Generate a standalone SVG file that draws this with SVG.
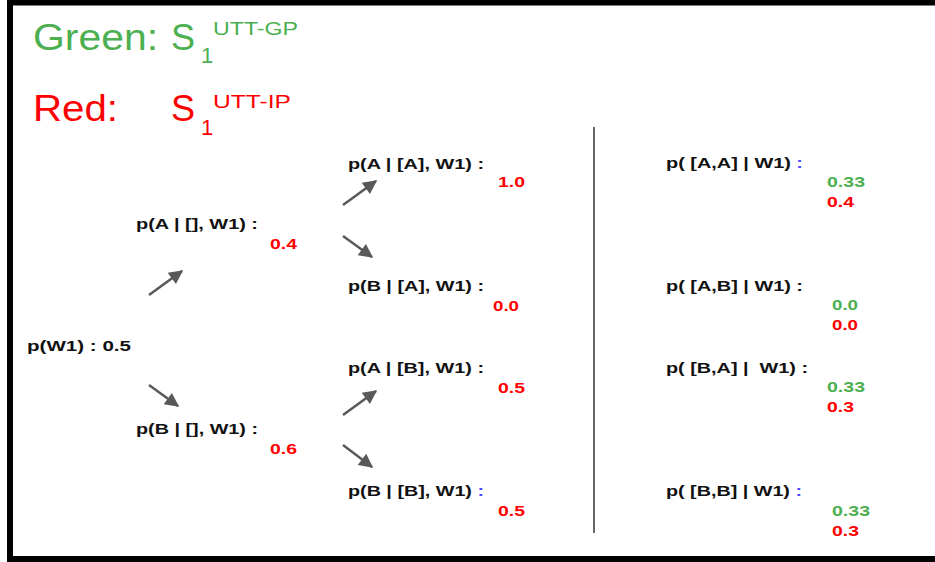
<svg xmlns="http://www.w3.org/2000/svg" width="935" height="562" viewBox="0 0 935 562">
<style>
text{font-family:"Liberation Sans",Arial,sans-serif}
.t{font-size:36px}
.sup{font-size:19px}
.sub{font-size:22px}
.g{fill:#4caf50}
.r{fill:#ff0000}
.lb{font-size:15px;font-weight:bold;fill:#111}
.v{font-size:15.5px;font-weight:bold}
.b{fill:#4b4bff}
.arr{stroke:#595959;stroke-width:2.5;fill:none;marker-end:url(#ah)}
</style>
<defs>
<marker id="ah" viewBox="0 0 10 10" refX="9" refY="5" markerWidth="17" markerHeight="14" markerUnits="userSpaceOnUse" orient="auto">
<path d="M0,0 L10,5 L0,10 z" fill="#595959"/>
</marker>
</defs>
<rect x="0" y="0" width="935" height="562" fill="#fff"/>
<rect x="10" y="2.5" width="940" height="556.5" fill="#fff" stroke="#000" stroke-width="6"/>
<g id="legend">
<text class="t g" x="33" y="50" textLength="125" lengthAdjust="spacingAndGlyphs">Green:</text>
<text class="t g" x="171" y="50">S</text>
<text class="sub g" x="201" y="63">1</text>
<text class="sup g" x="213" y="35" textLength="85" lengthAdjust="spacingAndGlyphs">UTT-GP</text>
<text class="t r" x="33" y="121" textLength="85" lengthAdjust="spacingAndGlyphs">Red:</text>
<text class="t r" x="171" y="121">S</text>
<text class="sub r" x="201" y="135">1</text>
<text class="sup r" x="213" y="108" textLength="78" lengthAdjust="spacingAndGlyphs">UTT-IP</text>
</g>
<g id="connectors">
<line class="arr" x1="149" y1="295" x2="182" y2="271"/>
<line class="arr" x1="343" y1="205" x2="376" y2="181"/>
<line class="arr" x1="343" y1="236" x2="372" y2="257"/>
<line class="arr" x1="149" y1="385" x2="178" y2="406"/>
<line class="arr" x1="343" y1="415" x2="376" y2="391"/>
<line class="arr" x1="343" y1="445" x2="372" y2="467"/>
<line x1="594" y1="127" x2="594" y2="533" stroke="#666" stroke-width="2"/>
</g>
<g id="n-w1">
<text class="lb" x="27" y="351" textLength="104" lengthAdjust="spacingAndGlyphs">p(W1) : 0.5</text>
</g>
<g id="n-a">
<text class="lb" x="136" y="229" textLength="122" lengthAdjust="spacingAndGlyphs">p(A | [], W1) :</text>
<text class="v r" x="270" y="249" textLength="27" lengthAdjust="spacingAndGlyphs">0.4</text>
</g>
<g id="n-b">
<text class="lb" x="136" y="434" textLength="122" lengthAdjust="spacingAndGlyphs">p(B | [], W1) :</text>
<text class="v r" x="270" y="454" textLength="27" lengthAdjust="spacingAndGlyphs">0.6</text>
</g>
<g id="n-aa">
<text class="lb" x="348" y="169" textLength="136" lengthAdjust="spacingAndGlyphs">p(A | [A], W1) :</text>
<text class="v r" x="498" y="187" textLength="27" lengthAdjust="spacingAndGlyphs">1.0</text>
</g>
<g id="n-ba">
<text class="lb" x="348" y="291" textLength="136" lengthAdjust="spacingAndGlyphs">p(B | [A], W1) :</text>
<text class="v r" x="493" y="311" textLength="26" lengthAdjust="spacingAndGlyphs">0.0</text>
</g>
<g id="n-ab">
<text class="lb" x="348" y="373" textLength="136" lengthAdjust="spacingAndGlyphs">p(A | [B], W1) :</text>
<text class="v r" x="498" y="393" textLength="27" lengthAdjust="spacingAndGlyphs">0.5</text>
</g>
<g id="n-bb">
<text class="lb" x="348" y="496" textLength="136" lengthAdjust="spacingAndGlyphs">p(B | [B], W1) <tspan class="b">:</tspan></text>
<text class="v r" x="498" y="516" textLength="27" lengthAdjust="spacingAndGlyphs">0.5</text>
</g>
<g id="j-aa">
<text class="lb" x="666" y="168" textLength="137" lengthAdjust="spacingAndGlyphs">p( [A,A] | W1) <tspan class="b">:</tspan></text>
<text class="v g" x="827" y="187" textLength="38" lengthAdjust="spacingAndGlyphs">0.33</text>
<text class="v r" x="827" y="207" textLength="27" lengthAdjust="spacingAndGlyphs">0.4</text>
</g>
<g id="j-ab">
<text class="lb" x="666" y="291" textLength="137" lengthAdjust="spacingAndGlyphs">p( [A,B] | W1) :</text>
<text class="v g" x="832" y="310" textLength="26" lengthAdjust="spacingAndGlyphs">0.0</text>
<text class="v r" x="832" y="330" textLength="26" lengthAdjust="spacingAndGlyphs">0.0</text>
</g>
<g id="j-ba">
<text class="lb" x="666" y="373" textLength="142" lengthAdjust="spacingAndGlyphs" xml:space="preserve">p( [B,A] |  W1) :</text>
<text class="v g" x="827" y="392" textLength="38" lengthAdjust="spacingAndGlyphs">0.33</text>
<text class="v r" x="827" y="412" textLength="27" lengthAdjust="spacingAndGlyphs">0.3</text>
</g>
<g id="j-bb">
<text class="lb" x="666" y="496" textLength="136" lengthAdjust="spacingAndGlyphs">p( [B,B] | W1) <tspan class="b">:</tspan></text>
<text class="v g" x="832" y="516" textLength="38" lengthAdjust="spacingAndGlyphs">0.33</text>
<text class="v r" x="832" y="536" textLength="27" lengthAdjust="spacingAndGlyphs">0.3</text>
</g>
</svg>
